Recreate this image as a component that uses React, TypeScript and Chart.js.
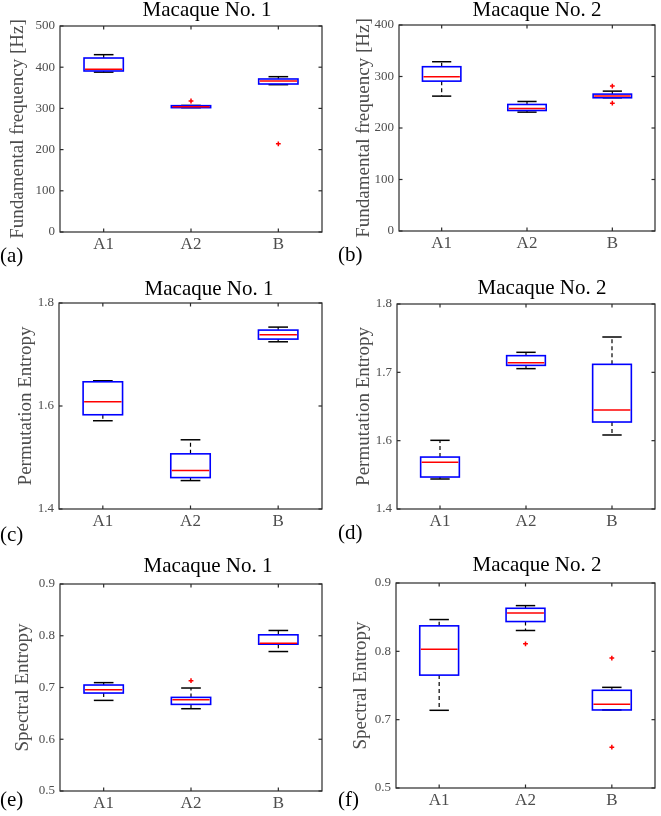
import React, { useEffect, useRef } from 'react';
import { Chart, registerables } from 'chart.js';

Chart.register(...registerables);

const groups = ['A1', 'A2', 'B'];

// Box summaries per group: [lower whisker, Q1, median, Q3, upper whisker]
const f0Macaque1 = [
  [388, 390.8, 394.8, 422.3, 430.4],
  [301.8, 301.8, 304.2, 306.6, 307.2],
  [357.6, 359.2, 366.5, 371.4, 377],
];
const f0Macaque1Outliers = [[], [318], [214]];

const f0Macaque2 = [
  [261.9, 291, 299.5, 319, 328.7],
  [230.8, 234, 237.9, 245.7, 251.5],
  [258.7, 258.7, 261.9, 265.8, 271.6],
];
const f0Macaque2Outliers = [[], [], [281.4, 248.3]];

const peMacaque1 = [
  [1.5714, 1.583, 1.6084, 1.647, 1.649],
  [1.4552, 1.461, 1.4747, 1.5071, 1.5344],
  [1.7247, 1.7299, 1.7383, 1.7474, 1.7532],
];
const peMacaque1Outliers = [[], [], []];

const peMacaque2 = [
  [1.5439, 1.5468, 1.5683, 1.576, 1.6005],
  [1.7054, 1.7102, 1.7141, 1.7244, 1.7293],
  [1.6083, 1.6273, 1.6449, 1.7117, 1.7517],
];
const peMacaque2Outliers = [[], [], []];

const seMacaque1 = [
  [0.6751, 0.6893, 0.6958, 0.7048, 0.7094],
  [0.659, 0.6674, 0.6764, 0.6809, 0.699],
  [0.7695, 0.7837, 0.7856, 0.8018, 0.8102],
];
const seMacaque1Outliers = [[], [0.7132], []];

const seMacaque2 = [
  [0.7137, 0.7652, 0.8032, 0.8373, 0.8465],
  [0.8305, 0.8436, 0.8562, 0.863, 0.8669],
  [0.7142, 0.7142, 0.7225, 0.743, 0.7473],
];
const seMacaque2Outliers = [[], [0.811], [0.7901, 0.6598]];

// Y tick positions and the labels printed at them
const f0Ticks1 = [0, 100, 200, 300, 400, 500];
const f0Labels1 = ['0', '100', '200', '300', '400', '500'];
const f0Ticks2 = [0, 100, 200, 300, 400];
const f0Labels2 = ['0', '100', '200', '300', '400'];
const peTicks1 = [1.4, 1.6, 1.8];
const peLabels1 = ['1.4', '1.6', '1.8'];
const peTicks2 = [1.5, 1.6, 1.7, 1.8];
const peLabels2 = ['1.4', '1.6', '1.7', '1.8'];
const seTicks1 = [0.5, 0.6, 0.7, 0.8, 0.9];
const seLabels1 = ['0.5', '0.6', '0.7', '0.8', '0.9'];
const seTicks2 = [0.6, 0.7, 0.8, 0.9];
const seLabels2 = ['0.5', '0.7', '0.8', '0.9'];

const SERIF = '"Liberation Serif", "Times New Roman", serif';
const AXIS_GRAY = '#4d4d4d';
const FRAME = '#2b2b2b';
const BOX_HALF = 0.225;

const COL_X = [0, 330];
const COL_W = [330, 331];
const ROW_Y = [0, 270, 540];
const ROW_H = [280, 280, 276];

const PANELS = [
  {
    col: 0, row: 0, title: 'Macaque No. 1', titleAt: [207, 10], letter: '(a)', letterAt: [0, 256],
    yTitle: 'Fundamental frequency [Hz]', yTitlePad: 7, area: { l: 60, r: 322, t: 26, b: 232 },
    stats: f0Macaque1, outliers: f0Macaque1Outliers, yMin: 0, yMax: 500, yTicks: f0Ticks1, yLabels: f0Labels1,
  },
  {
    col: 1, row: 0, title: 'Macaque No. 2', titleAt: [207, 10], letter: '(b)', letterAt: [8, 255.5],
    yTitle: 'Fundamental frequency [Hz]', yTitlePad: 23, area: { l: 69, r: 325, t: 25, b: 231 },
    stats: f0Macaque2, outliers: f0Macaque2Outliers, yMin: 0, yMax: 400, yTicks: f0Ticks2, yLabels: f0Labels2,
  },
  {
    col: 0, row: 1, title: 'Macaque No. 1', titleAt: [209, 19], letter: '(c)', letterAt: [0, 265],
    yTitle: 'Permutation Entropy', yTitlePad: 15, area: { l: 59, r: 322, t: 33, b: 239 },
    stats: peMacaque1, outliers: peMacaque1Outliers, yMin: 1.4, yMax: 1.8, yTicks: peTicks1, yLabels: peLabels1,
  },
  {
    col: 1, row: 1, title: 'Macaque No. 2', titleAt: [212, 18], letter: '(d)', letterAt: [8, 263],
    yTitle: 'Permutation Entropy', yTitlePad: 23, area: { l: 67, r: 325, t: 34, b: 239 },
    stats: peMacaque2, outliers: peMacaque2Outliers, yMin: 1.5, yMax: 1.8, yTicks: peTicks2, yLabels: peLabels2,
  },
  {
    col: 0, row: 2, title: 'Macaque No. 1', titleAt: [208, 26], letter: '(e)', letterAt: [0, 260],
    yTitle: 'Spectral Entropy', yTitlePad: 12, area: { l: 60, r: 322, t: 44, b: 251 },
    stats: seMacaque1, outliers: seMacaque1Outliers, yMin: 0.5, yMax: 0.9, yTicks: seTicks1, yLabels: seLabels1,
  },
  {
    col: 1, row: 2, title: 'Macaque No. 2', titleAt: [207, 25], letter: '(f)', letterAt: [8, 260],
    yTitle: 'Spectral Entropy', yTitlePad: 20, area: { l: 66, r: 325, t: 43, b: 248 },
    stats: seMacaque2, outliers: seMacaque2Outliers, yMin: 0.6, yMax: 0.9, yTicks: seTicks2, yLabels: seLabels2,
  },
];

type PanelSpec = (typeof PANELS)[number];

function BoxPanel({ spec }: { spec: PanelSpec }) {
  const ref = useRef<HTMLCanvasElement | null>(null);
  const cw = COL_W[spec.col];
  const ch = ROW_H[spec.row];

  useEffect(() => {
    const canvas = ref.current;
    if (!canvas) return;

    const outlierPoints: { x: number; y: number }[] = [];
    spec.outliers.forEach((vals, i) => vals.forEach((v) => outlierPoints.push({ x: i + 1, y: v })));

    const line = (ctx: CanvasRenderingContext2D, x1: number, y1: number, x2: number, y2: number) => {
      ctx.beginPath();
      ctx.moveTo(x1, y1);
      ctx.lineTo(x2, y2);
      ctx.stroke();
    };

    const boxes = {
      id: 'boxes',
      beforeDatasetsDraw(chart: any) {
        const ctx = chart.ctx as CanvasRenderingContext2D;
        const xs = chart.scales.x;
        const ys = chart.scales.y;
        ctx.save();
        spec.stats.forEach((s, i) => {
          const [lo, q1, med, q3, hi] = s;
          const x = xs.getPixelForValue(i + 1);
          const hw = xs.getPixelForValue(i + 1 + BOX_HALF) - x;
          const capW = hw / 2;
          // whiskers
          ctx.strokeStyle = '#000000';
          ctx.lineWidth = 1.2;
          ctx.setLineDash([4, 3]);
          if (hi > q3) line(ctx, x, ys.getPixelForValue(q3), x, ys.getPixelForValue(hi));
          if (lo < q1) line(ctx, x, ys.getPixelForValue(q1), x, ys.getPixelForValue(lo));
          ctx.setLineDash([]);
          ctx.lineWidth = 1.5;
          line(ctx, x - capW, ys.getPixelForValue(hi), x + capW, ys.getPixelForValue(hi));
          line(ctx, x - capW, ys.getPixelForValue(lo), x + capW, ys.getPixelForValue(lo));
          // box
          ctx.strokeStyle = '#0000ff';
          ctx.lineWidth = 1.6;
          const yTop = ys.getPixelForValue(q3);
          const yBot = ys.getPixelForValue(q1);
          ctx.strokeRect(x - hw, yTop, hw * 2, yBot - yTop);
          // median
          ctx.strokeStyle = '#ff0000';
          ctx.lineWidth = 1.5;
          const ym = ys.getPixelForValue(med);
          line(ctx, x - hw + 1, ym, x + hw - 1, ym);
        });
        ctx.restore();
      },
      afterDraw(chart: any) {
        const ctx = chart.ctx as CanvasRenderingContext2D;
        const { left, right, top, bottom } = chart.chartArea;
        const xs = chart.scales.x;
        const ys = chart.scales.y;
        ctx.save();
        // axes frame with inward ticks on all four sides
        ctx.strokeStyle = FRAME;
        ctx.lineWidth = 1.2;
        ctx.strokeRect(left, top, right - left, bottom - top);
        const tl = 3.5;
        ys.ticks.forEach((t: any) => {
          const py = ys.getPixelForValue(t.value);
          line(ctx, left, py, left + tl, py);
          line(ctx, right, py, right - tl, py);
        });
        xs.ticks.forEach((t: any) => {
          const px = xs.getPixelForValue(t.value);
          line(ctx, px, bottom, px, bottom - tl);
          line(ctx, px, top, px, top + tl);
        });
        // panel title and letter
        ctx.fillStyle = '#000000';
        ctx.font = `21px ${SERIF}`;
        ctx.textBaseline = 'middle';
        ctx.textAlign = 'center';
        ctx.fillText(spec.title, spec.titleAt[0], spec.titleAt[1]);
        ctx.textAlign = 'left';
        ctx.fillText(spec.letter, spec.letterAt[0], spec.letterAt[1]);
        ctx.restore();
      },
    };

    const chart = new Chart(canvas, {
      type: 'scatter',
      data: {
        datasets: [
          {
            data: outlierPoints,
            pointStyle: 'cross',
            radius: 2.4,
            borderWidth: 1.5,
            borderColor: '#ff0000',
            backgroundColor: '#ff0000',
          },
        ],
      },
      options: {
        animation: false,
        responsive: false,
        devicePixelRatio: 1,
        layout: { padding: { left: 0, right: cw - spec.area.r, top: spec.area.t, bottom: 0 } },
        plugins: {
          legend: { display: false },
          tooltip: { enabled: false },
          title: { display: false },
        },
        scales: {
          x: {
            type: 'linear',
            min: 0.5,
            max: 3.5,
            grid: { display: false, drawTicks: false },
            border: { display: false },
            afterBuildTicks: (s: any) => {
              s.ticks = groups.map((_, i) => ({ value: i + 1 }));
            },
            afterFit: (s: any) => {
              s.height = ch - spec.area.b;
            },
            ticks: {
              autoSkip: false,
              maxRotation: 0,
              padding: 2,
              color: AXIS_GRAY,
              font: { family: SERIF, size: 17 },
              callback: (_v: any, i: number) => groups[i],
            },
          },
          y: {
            type: 'linear',
            min: spec.yMin,
            max: spec.yMax,
            grid: { display: false, drawTicks: false },
            border: { display: false },
            afterBuildTicks: (s: any) => {
              s.ticks = spec.yTicks.map((v) => ({ value: v }));
            },
            afterFit: (s: any) => {
              s.width = spec.area.l;
            },
            ticks: {
              autoSkip: false,
              padding: 5,
              color: AXIS_GRAY,
              font: { family: SERIF, size: 13 },
              callback: (_v: any, i: number) => spec.yLabels[i],
            },
            title: {
              display: true,
              text: spec.yTitle,
              color: AXIS_GRAY,
              font: { family: SERIF, size: 19 },
              padding: { top: spec.yTitlePad, bottom: 0 },
            },
          },
        },
      },
      plugins: [boxes],
    } as any);

    return () => chart.destroy();
  }, [spec, cw, ch]);

  return (
    <canvas
      ref={ref}
      width={cw}
      height={ch}
      style={{ position: 'absolute', left: COL_X[spec.col], top: ROW_Y[spec.row], width: cw, height: ch }}
    />
  );
}

export default function App() {
  return (
    <div
      style={{
        position: 'absolute',
        left: 0,
        top: 0,
        width: 661,
        height: 816,
        background: '#ffffff',
        overflow: 'hidden',
      }}
    >
      {PANELS.map((p, i) => (
        <BoxPanel key={i} spec={p} />
      ))}
    </div>
  );
}
